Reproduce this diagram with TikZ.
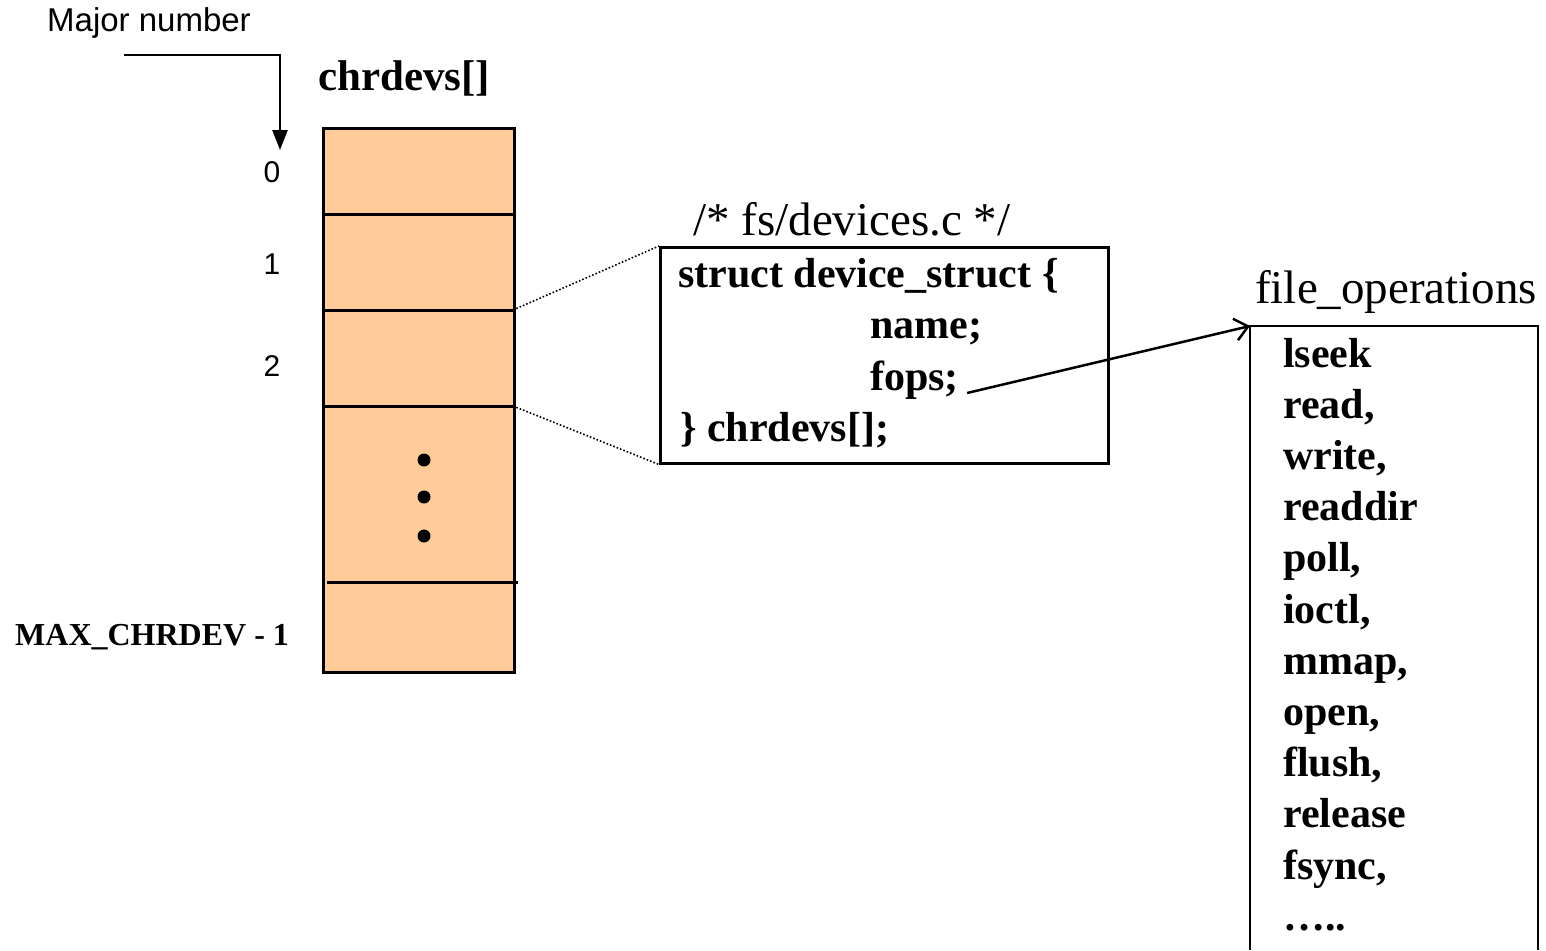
\documentclass[tikz,border=0pt]{standalone}
\usepackage{fontspec}
\setmainfont{Liberation Serif}
\newfontfamily\labelsans{Liberation Sans}
\usetikzlibrary{arrows.meta}
\definecolor{peach}{HTML}{FFCC99}

\begin{document}
\begin{tikzpicture}[x=1pt,y=-1pt,
  codetext/.style={font=\fontsize{42}{50}\selectfont\bfseries, inner sep=0pt, anchor=base west},
  plaintext/.style={font=\fontsize{47}{56}\selectfont, inner sep=0pt, anchor=base west},
  idx/.style={font=\labelsans\fontsize{30}{36}\selectfont, inner sep=0pt, anchor=base},
  cellline/.style={line width=3pt},
  boxline/.style={draw, line width=2.5pt, inner sep=0pt, anchor=north west},
  dot/.style={circle, fill=black, minimum size=13pt, inner sep=0pt},
  zoomline/.style={dotted, line width=1.6pt},
]
\useasboundingbox (0,0) rectangle (1546,950);

% Major number pointer
\node[idx, font=\labelsans\fontsize{33}{40}\selectfont] (major) at (149,32) {Major number};
\coordinate (mstart) at (124,55);
\coordinate (mbend) at (280,55);
\coordinate (mend) at (280,150);
\draw[line width=2.5pt, -{Triangle[length=20pt,width=15pt]}] (mstart) -- (mbend) -- (mend);

% chrdevs[] array
\node[font=\fontsize{43}{50}\selectfont\bfseries, inner sep=0pt, anchor=base] (arrtitle) at (404,90) {chrdevs[]};
\node[draw, fill=peach, line width=3pt, minimum width=191pt, minimum height=544pt,
      inner sep=0pt, anchor=north west] (arr) at (322,127) {};
\coordinate (d1l) at (322,214); \coordinate (d1r) at (513,214);
\coordinate (d2l) at (322,310); \coordinate (d2r) at (513,310);
\coordinate (d3l) at (322,406); \coordinate (d3r) at (513,406);
\coordinate (d4l) at (327,582); \coordinate (d4r) at (518,582);
\draw[cellline] (d1l) -- (d1r);
\draw[cellline] (d2l) -- (d2r);
\draw[cellline] (d3l) -- (d3r);
\draw[cellline] (d4l) -- (d4r);
\node[dot] (dota) at (424,460) {};
\node[dot] (dotb) at (424,497) {};
\node[dot] (dotc) at (424,536) {};

% index labels
\node[idx] (i0) at (272,182) {0};
\node[idx] (i1) at (272,274) {1};
\node[idx] (i2) at (272,376) {2};
\node[font=\fontsize{32}{38}\selectfont\bfseries, inner sep=0pt, anchor=base west] (imax) at (15,645) {MAX\_CHRDEV - 1};

% device_struct declaration
\node[plaintext] (src) at (693,235) {/* fs/devices.c */};
\node[boxline, minimum width=448pt, minimum height=216pt] (sb) at (659,246) {};
\node[codetext] (s1) at (678,287) {struct device\_struct \{};
\node[codetext] (s2) at (870,338) {name;};
\node[codetext] (s3) at (870,390) {fops;};
\node[codetext] (s4) at (680,441) {\} chrdevs[];};

\draw[zoomline] (d2r) -- (sb.north west);
\draw[zoomline] (d3r) -- (sb.south west);

% file_operations table
\node[plaintext] (fotitle) at (1255,303) {file\_operations};
\coordinate (fonw) at (1250,326);
\coordinate (fone) at (1538,326);
\coordinate (fosw) at (1250,950);
\coordinate (fose) at (1538,950);
\draw[line width=2.5pt] (fosw) -- (fonw) -- (fone) -- (fose);
\foreach \name [count=\k from 0] in {lseek,read{,},write{,},readdir,poll{,},ioctl{,},mmap{,},open{,},flush{,},release,fsync{,},…..}
  \node[codetext] (op\k) at (1283,367+51.2*\k) {\name};

\coordinate (fopsend) at ([xshift=8pt,yshift=-3pt]s3.base east);
\draw[line width=2.5pt, -{Straight Barb[length=13pt,width=22pt]}] (fopsend) -- (fonw);
\end{tikzpicture}
\end{document}
